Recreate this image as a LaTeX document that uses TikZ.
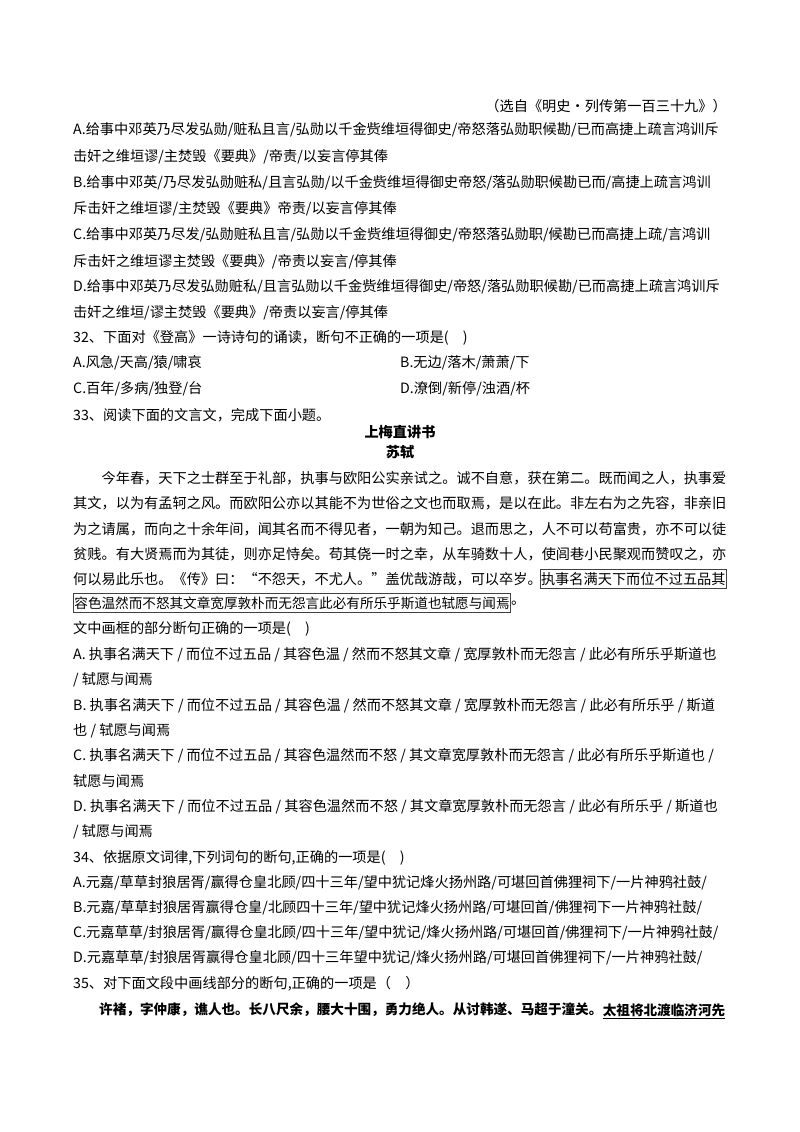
\documentclass[tikz,border=0pt]{standalone}
\usepackage{fontspec}
\setmainfont{Noto Sans CJK SC}
\newfontfamily\cjk{Noto Sans CJK SC}
\begin{document}
\begin{tikzpicture}[x=1pt,y=-1pt,
  tl/.style={anchor=west,inner sep=0pt,font=\fontsize{14.2}{16}\selectfont},
  tc/.style={anchor=center,inner sep=0pt,font=\fontsize{14.2}{16}\selectfont\bfseries},
  bd/.style={anchor=west,inner sep=0pt,font=\fontsize{13.6}{16}\selectfont\bfseries},
  bx/.style={tl,draw=black!75,line width=0.8pt,inner xsep=1pt,inner ysep=3pt}]
\fill[white] (0,0) rectangle (800,1132);
\node[anchor=east,inner sep=0pt,font=\fontsize{14.2}{16}\selectfont] (src) at (727,106) {（选自《明史•列传第一百三十九》）};
\node[tl] (a1) at (73,130) {A.给事中邓英乃尽发弘勋/赃私且言/弘勋以千金赀维垣得御史/帝怒落弘勋职候勘/已而高捷上疏言鸿训斥};
\node[tl] (a2) at (73,157) {击奸之维垣谬/主焚毁《要典》/帝责/以妄言停其俸};
\node[tl] (b1) at (73,183) {B.给事中邓英/乃尽发弘勋赃私/且言弘勋/以千金赀维垣得御史帝怒/落弘勋职候勘已而/高捷上疏言鸿训};
\node[tl] (b2) at (73,209) {斥击奸之维垣谬/主焚毁《要典》帝责/以妄言停其俸};
\node[tl] (c1) at (73,235) {C.给事中邓英乃尽发/弘勋赃私且言/弘勋以千金赀维垣得御史/帝怒落弘勋职/候勘已而高捷上疏/言鸿训};
\node[tl] (c2) at (73,262) {斥击奸之维垣谬主焚毁《要典》/帝责以妄言/停其俸};
\node[tl] (d1) at (73,287) {D.给事中邓英乃尽发弘勋赃私/且言弘勋以千金赀维垣得御史/帝怒/落弘勋职候勘/已而高捷上疏言鸿训斥};
\node[tl] (d2) at (73,313) {击奸之维垣/谬主焚毁《要典》/帝责以妄言/停其俸};
\node[tl] (q32) at (73,338) {32、下面对《登高》一诗诗句的诵读，断句不正确的一项是(\quad)};
\node[tl] (q32a) at (73,363) {A.风急/天高/猿/啸哀};
\node[tl] (q32b) at (400,363) {B.无边/落木/萧萧/下};
\node[tl] (q32c) at (73,389) {C.百年/多病/独登/台};
\node[tl] (q32d) at (400,389) {D.潦倒/新停/浊酒/杯};
\node[tl] (q33) at (73,415) {33、阅读下面的文言文，完成下面小题。};
\node[tc] (ti) at (400,432) {上梅直讲书};
\node[tc] (au) at (400,452) {苏轼};
\node[tl] (p1) at (73,478) {\hspace{2em}今年春，天下之士群至于礼部，执事与欧阳公实亲试之。诚不自意，获在第二。既而闻之人，执事爱};
\node[tl] (p2) at (73,503) {其文，以为有孟轲之风。而欧阳公亦以其能不为世俗之文也而取焉，是以在此。非左右为之先容，非亲旧};
\node[tl] (p3) at (73,529) {为之请属，而向之十余年间，闻其名而不得见者，一朝为知己。退而思之，人不可以苟富贵，亦不可以徒};
\node[tl] (p4) at (73,554) {贫贱。有大贤焉而为其徒，则亦足恃矣。苟其侥一时之幸，从车骑数十人，使闾巷小民聚观而赞叹之，亦};
\node[tl] (p5) at (73,579) {何以易此乐也。《传》曰：“不怨天，不尤人。”盖优哉游哉，可以卒岁。};
\node[bx,anchor=east] (bx1) at (727,579) {执事名满天下而位不过五品其};
\node[bx,font=\fontsize{13.6}{16}\selectfont] (bx2) at (73,603) {容色温然而不怒其文章宽厚敦朴而无怨言此必有所乐乎斯道也轼愿与闻焉};
\node[tl,anchor=west] (dot) at (bx2.east) {。};
\node[tl] (q) at (73,629) {文中画框的部分断句正确的一项是(\quad)};
\node[tl] (qa1) at (73,655) {A. 执事名满天下 / 而位不过五品 / 其容色温 / 然而不怒其文章 / 宽厚敦朴而无怨言 / 此必有所乐乎斯道也};
\node[tl] (qa2) at (73,680) {/ 轼愿与闻焉};
\node[tl] (qb1) at (73,706) {B. 执事名满天下 / 而位不过五品 / 其容色温 / 然而不怒其文章 / 宽厚敦朴而无怨言 / 此必有所乐乎 / 斯道};
\node[tl] (qb2) at (73,731) {也 / 轼愿与闻焉};
\node[tl] (qc1) at (73,756) {C. 执事名满天下 / 而位不过五品 / 其容色温然而不怒 / 其文章宽厚敦朴而无怨言 / 此必有所乐乎斯道也 /};
\node[tl] (qc2) at (73,781) {轼愿与闻焉};
\node[tl] (qd1) at (73,807) {D. 执事名满天下 / 而位不过五品 / 其容色温然而不怒 / 其文章宽厚敦朴而无怨言 / 此必有所乐乎 / 斯道也};
\node[tl] (qd2) at (73,832) {/ 轼愿与闻焉};
\node[tl] (q34) at (73,858) {34、依据原文词律,下列词句的断句,正确的一项是(\quad)};
\node[tl] (q34a) at (73,883) {A.元嘉/草草封狼居胥/赢得仓皇北顾/四十三年/望中犹记烽火扬州路/可堪回首佛狸祠下/一片神鸦社鼓/};
\node[tl] (q34b) at (73,908) {B.元嘉/草草封狼居胥赢得仓皇/北顾四十三年/望中犹记烽火扬州路/可堪回首/佛狸祠下一片神鸦社鼓/};
\node[tl] (q34c) at (73,933) {C.元嘉草草/封狼居胥/赢得仓皇北顾/四十三年/望中犹记/烽火扬州路/可堪回首/佛狸祠下/一片神鸦社鼓/};
\node[tl] (q34d) at (73,958) {D.元嘉草草/封狼居胥赢得仓皇北顾/四十三年望中犹记/烽火扬州路/可堪回首佛狸祠下/一片神鸦社鼓/};
\node[tl] (q35) at (73,984) {35、对下面文段中画线部分的断句,正确的一项是（\quad）};
\node[bd] (x1) at (99,1010) {许褚，字仲康，谯人也。长八尺余，腰大十围，勇力绝人。从讨韩遂、马超于潼关。};
\node[bd] (x2) at (x1.east) {太祖将北渡临济河先};
\draw[line width=0.8pt] ([yshift=-2pt]x2.south west) -- ([yshift=-2pt]x2.south east);
\end{tikzpicture}
\end{document}
